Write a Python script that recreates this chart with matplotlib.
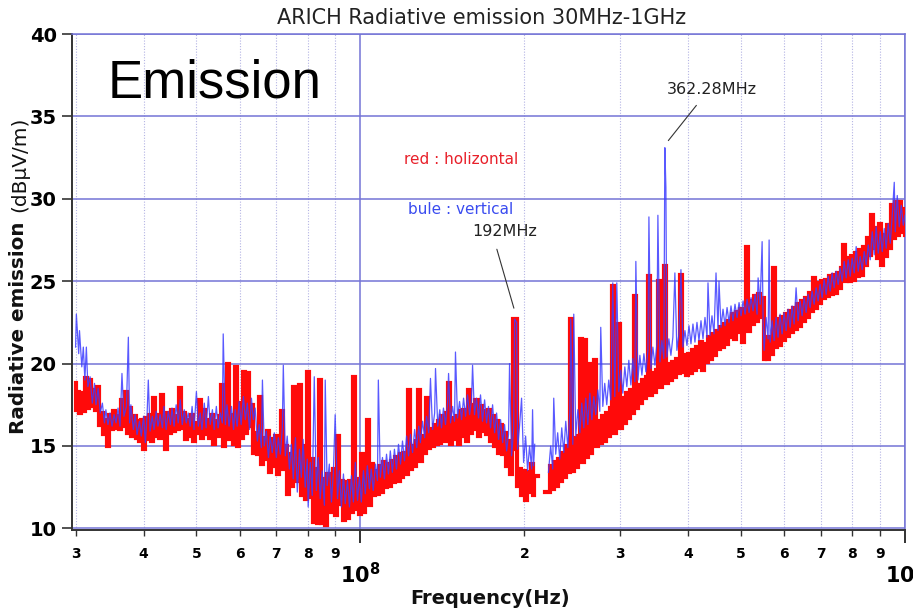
import numpy as np
import matplotlib
matplotlib.use('Agg')
import matplotlib.pyplot as plt
from matplotlib.ticker import FixedLocator, FixedFormatter, NullLocator

plt.rcParams['mathtext.fontset'] = 'dejavusans'

# ---------------- data (frequency in MHz, level in dBuV/m) ----------------
red_mhz = [
    30.0, 30.2, 30.4, 30.6, 30.9, 31.1, 31.4, 31.6, 31.9, 32.2,
    32.5, 32.7, 33.0, 33.3, 33.6, 33.9, 34.1, 34.4, 34.7, 35.0,
    35.3, 35.6, 35.9, 36.2, 36.5, 36.8, 37.2, 37.5, 37.8, 38.1,
    38.5, 38.8, 39.1, 39.4, 39.8, 40.1, 40.5, 40.8, 41.1, 41.5,
    41.8, 42.2, 42.5, 42.9, 43.3, 43.6, 44.0, 44.4, 44.8, 45.1,
    45.5, 45.9, 46.3, 46.7, 47.1, 47.5, 47.9, 48.3, 48.7, 49.1,
    49.5, 50.0, 50.4, 50.8, 51.2, 51.7, 52.1, 52.6, 53.0, 53.5,
    53.9, 54.4, 54.8, 55.3, 55.8, 56.2, 56.7, 57.2, 57.7, 58.2,
    58.7, 59.2, 59.7, 60.2, 60.7, 61.2, 61.7, 62.3, 62.8, 63.3,
    63.9, 64.4, 65.0, 65.5, 66.1, 66.6, 67.2, 67.8, 68.3, 68.9,
    69.5, 70.1, 70.7, 71.3, 71.9, 72.5, 73.1, 73.8, 74.4, 75.0,
    75.6, 76.3, 76.9, 77.6, 78.2, 78.9, 79.5, 80.2, 80.9, 81.6,
    82.3, 83.0, 83.7, 84.4, 85.1, 85.9, 86.6, 87.3, 88.1, 88.8,
    89.6, 90.4, 91.1, 91.9, 92.7, 93.5, 94.3, 95.0, 95.9, 96.7,
    97.5, 98.3, 99.2, 100.0, 100.8, 101.7, 102.6, 103.4, 104.3, 105.2,
    106.1, 107.0, 107.9, 108.8, 109.8, 110.7, 111.7, 112.6, 113.5, 114.5,
    115.5, 116.5, 117.5, 118.5, 119.5, 120.5, 121.6, 122.6, 123.6, 124.7,
    125.8, 126.9, 128.0, 128.9, 130.1, 131.2, 132.3, 133.5, 134.5, 135.7,
    136.9, 138.1, 139.3, 140.3, 141.5, 142.7, 144.0, 145.2, 146.4, 147.7,
    148.9, 150.2, 151.5, 152.7, 154.0, 155.3, 156.7, 158.0, 159.3, 160.7,
    162.0, 163.4, 164.8, 166.2, 167.6, 169.1, 170.5, 171.9, 173.4, 174.9,
    176.4, 177.9, 179.4, 180.9, 182.5, 184.0, 185.6, 187.1, 188.7, 190.3,
    191.2, 193.6, 194.4, 196.0, 197.7, 199.4, 201.1, 202.8, 204.5, 206.3,
    208.0, 209.0, 215.0, 221.5, 223.6, 225.5, 227.4, 229.4, 231.3, 233.3,
    235.3, 237.3, 239.3, 241.4, 243.4, 245.5, 247.6, 249.7, 251.8, 253.9,
    256.1, 258.3, 260.5, 262.7, 264.9, 267.2, 269.4, 271.7, 274.0, 276.3,
    278.7, 281.0, 283.4, 285.8, 288.3, 290.7, 293.2, 295.7, 298.2, 300.8,
    303.3, 305.9, 308.5, 311.1, 313.8, 316.5, 319.2, 321.9, 324.6, 327.4,
    330.2, 333.0, 335.8, 338.7, 341.5, 344.4, 347.4, 350.3, 353.3, 356.3,
    359.3, 362.3, 365.4, 368.5, 371.7, 374.8, 378.0, 381.2, 384.5, 387.8,
    391.1, 394.4, 397.8, 401.2, 404.6, 408.0, 411.5, 415.0, 418.5, 422.1,
    425.7, 429.3, 433.0, 436.7, 440.3, 444.1, 447.9, 451.7, 455.5, 459.4,
    463.3, 467.3, 471.3, 475.2, 479.2, 483.3, 487.4, 491.6, 495.8, 500.0,
    504.3, 508.6, 512.9, 517.3, 521.6, 526.1, 530.6, 535.1, 539.7, 544.1,
    548.9, 551.2, 555.8, 560.6, 565.4, 570.2, 575.1, 579.8, 584.7, 589.7,
    594.7, 599.8, 604.9, 610.1, 615.3, 620.5, 625.7, 631.0, 636.4, 641.8,
    647.3, 652.8, 658.3, 663.9, 669.6, 675.2, 681.0, 686.8, 692.6, 698.5,
    704.5, 710.5, 716.5, 722.6, 728.8, 735.0, 741.2, 747.5, 753.9, 760.3,
    766.8, 773.3, 779.8, 786.5, 793.1, 799.9, 806.7, 813.5, 820.5, 827.4,
    834.5, 841.6, 848.7, 856.0, 863.3, 870.6, 878.0, 885.4, 893.0, 900.6,
    908.3, 916.0, 923.7, 931.6, 939.5, 947.5, 955.6, 963.7, 971.9, 980.2,
    988.5, 996.9, 1000.0]
red_db = [
    18.8, 17.2, 18.3, 17.0, 18.2, 17.1, 19.1, 17.3, 19.0, 17.4,
    18.4, 17.2, 18.6, 16.3, 17.0, 15.7, 16.6, 15.0, 16.9, 16.0,
    17.1, 16.1, 16.8, 16.0, 17.8, 16.2, 18.3, 15.8, 17.3, 15.6,
    16.8, 15.5, 16.5, 15.3, 16.6, 14.8, 16.7, 15.4, 16.9, 15.3,
    17.9, 15.6, 16.9, 15.5, 18.1, 15.6, 14.8, 17.0, 15.8, 17.2,
    15.9, 16.8, 16.0, 18.5, 16.1, 17.0, 15.4, 16.6, 15.6, 16.9,
    15.3, 16.4, 15.8, 17.8, 15.5, 17.2, 15.7, 16.6, 15.5, 16.9,
    15.1, 16.5, 15.6, 16.8, 18.7, 15.0, 17.2, 20.0, 15.4, 16.9,
    15.1, 19.8, 15.0, 17.6, 15.5, 19.5, 15.8, 19.4, 16.2, 17.5,
    14.6, 15.8, 14.5, 18.0, 13.9, 15.5, 14.2, 15.9, 13.4, 15.4,
    13.8, 15.6, 13.3, 15.3, 17.1, 13.6, 15.0, 12.1, 14.5, 12.6,
    18.6, 12.9, 14.8, 18.7, 12.0, 15.0, 11.8, 19.5, 11.9, 14.2,
    10.4, 13.6, 10.3, 19.0, 10.3, 13.0, 10.2, 13.3, 11.0, 12.4,
    13.6, 10.8, 15.6, 11.5, 12.9, 10.5, 12.8, 10.6, 12.9, 11.0,
    19.2, 11.2, 13.0, 10.9, 14.5, 11.0, 13.8, 16.6, 11.4, 13.9,
    12.0, 13.5, 12.1, 13.8, 12.2, 14.0, 12.5, 13.9, 12.6, 14.1,
    12.8, 14.3, 12.9, 14.5, 13.1, 14.6, 13.3, 18.4, 13.6, 15.0,
    13.8, 15.3, 18.4, 14.1, 15.6, 14.6, 17.9, 14.9, 16.0, 15.0,
    16.3, 15.1, 16.5, 15.2, 16.8, 15.3, 17.0, 18.8, 15.1, 16.7,
    15.4, 16.8, 15.1, 17.1, 15.6, 17.2, 15.3, 18.4, 15.8, 17.5,
    16.0, 17.8, 15.6, 17.4, 15.9, 17.1, 15.7, 17.2, 15.3, 16.8,
    15.0, 16.5, 14.6, 16.3, 14.5, 15.8, 13.8, 15.3, 13.3, 14.8,
    22.7, 22.7, 12.6, 13.6, 12.0, 13.5, 11.7, 13.4, 12.2, 13.9,
    12.0, 13.2, np.nan, 12.2, 13.8, 12.4, 14.0, 12.6, 14.2, 12.9,
    14.6, 13.1, 15.0, 13.4, 22.7, 13.5, 15.5, 13.7, 15.6, 21.5,
    14.0, 21.4, 14.3, 20.0, 14.6, 16.2, 20.2, 15.0, 16.5, 15.2,
    16.8, 15.3, 17.0, 15.6, 17.3, 24.7, 15.8, 17.6, 22.4, 16.1,
    17.9, 16.4, 18.2, 16.7, 18.4, 17.0, 24.1, 17.3, 18.7, 17.6,
    19.0, 17.9, 19.2, 25.3, 18.1, 19.4, 18.3, 19.6, 25.0, 18.6,
    19.8, 25.9, 18.8, 20.0, 19.0, 20.1, 19.2, 20.3, 19.4, 25.4,
    19.5, 20.5, 19.3, 20.6, 19.4, 20.8, 19.6, 21.0, 19.8, 21.3,
    19.6, 21.2, 20.1, 21.6, 20.3, 21.8, 20.5, 22.0, 20.9, 22.2,
    21.0, 22.4, 21.2, 22.6, 21.6, 23.0, 21.5, 23.1, 21.9, 23.3,
    21.3, 22.9, 27.1, 22.0, 23.8, 22.4, 24.1, 22.6, 24.2, 22.8,
    24.0, 20.3, 21.6, 20.3, 21.6, 20.6, 25.8, 21.0, 22.7, 21.1,
    22.8, 21.4, 23.0, 21.7, 23.2, 21.9, 23.4, 22.1, 23.6, 22.3,
    23.8, 22.6, 24.0, 22.8, 24.3, 23.2, 25.2, 23.4, 24.9, 23.7,
    25.0, 24.0, 25.1, 24.1, 25.3, 24.2, 25.4, 24.3, 25.5, 24.6,
    25.8, 27.2, 25.0, 26.4, 25.0, 26.5, 25.1, 26.7, 25.3, 26.9,
    25.4, 27.1, 26.0, 27.6, 26.6, 29.0, 27.0, 28.2, 26.4, 28.5,
    26.0, 27.8, 26.5, 28.4, 27.0, 29.6, 27.6, 29.8, 27.8, 29.8,
    28.0, 29.4, 27.8]

blue_mhz = [
    30.0, 30.1, 30.4, 30.5, 30.8, 31.0, 31.2, 31.4, 31.6, 31.9,
    32.2, 32.5, 32.7, 33.0, 33.3, 33.6, 33.9, 34.1, 34.4, 34.7,
    35.0, 35.3, 35.6, 35.9, 36.2, 36.5, 36.8, 37.2, 37.5, 37.7,
    37.9, 38.3, 38.6, 38.9, 39.3, 39.6, 40.0, 40.3, 40.6, 40.8,
    41.1, 41.5, 41.8, 42.2, 42.5, 42.9, 43.3, 43.6, 44.0, 44.4,
    44.8, 45.1, 45.5, 45.9, 46.3, 46.7, 47.1, 47.5, 47.9, 48.3,
    48.7, 49.1, 49.5, 50.0, 50.4, 50.8, 51.2, 51.7, 52.1, 52.6,
    53.0, 53.5, 53.9, 54.4, 54.8, 55.3, 55.8, 56.0, 56.5, 56.9,
    57.4, 58.0, 58.5, 58.9, 59.4, 59.9, 60.4, 61.0, 61.5, 62.0,
    62.6, 63.1, 63.6, 64.1, 64.7, 65.2, 65.8, 66.1, 66.6, 67.2,
    67.8, 68.3, 68.9, 69.5, 70.1, 70.7, 71.3, 71.9, 72.2, 72.8,
    73.4, 74.1, 74.7, 75.3, 76.0, 76.6, 77.3, 77.9, 78.5, 79.2,
    79.9, 80.2, 80.9, 81.6, 82.3, 83.0, 83.7, 84.4, 85.1, 85.9,
    86.2, 86.9, 87.7, 88.5, 89.2, 89.9, 90.8, 91.5, 92.3, 93.1,
    93.8, 94.7, 95.5, 96.3, 97.1, 97.9, 98.8, 99.6, 100.4, 101.3,
    102.1, 103.0, 103.9, 104.7, 105.6, 106.6, 107.5, 107.9, 108.8, 109.8,
    110.7, 111.7, 112.6, 113.5, 114.5, 115.5, 116.5, 117.5, 118.5, 119.5,
    120.5, 121.6, 122.6, 123.6, 124.7, 125.8, 126.9, 128.0, 128.9, 130.1,
    131.2, 132.3, 133.5, 134.5, 135.7, 136.9, 137.4, 138.7, 139.9, 140.9,
    142.1, 143.3, 144.6, 145.2, 146.4, 147.7, 148.9, 149.5, 150.8, 152.1,
    153.4, 154.7, 156.0, 157.3, 158.7, 160.0, 160.7, 162.0, 163.4, 164.8,
    166.2, 167.6, 169.1, 170.5, 171.9, 173.4, 174.9, 176.4, 177.9, 179.4,
    180.9, 182.5, 184.0, 185.6, 187.1, 187.9, 189.5, 191.2, 192.0, 193.6,
    194.4, 196.0, 197.7, 199.4, 201.1, 202.8, 204.5, 206.3, 207.1, 208.0,
    209.0, 215.0, 221.5, 223.6, 225.5, 226.5, 228.4, 230.3, 232.3, 234.3,
    236.3, 238.3, 240.4, 242.4, 243.4, 245.5, 246.5, 248.6, 250.8, 252.9,
    255.0, 257.2, 259.3, 261.6, 263.8, 266.1, 268.3, 270.5, 272.9, 275.2,
    276.3, 278.7, 281.0, 283.4, 285.8, 288.3, 290.7, 293.2, 295.7, 298.2,
    300.8, 303.3, 305.9, 308.5, 311.1, 313.8, 316.5, 319.2, 320.5, 323.3,
    326.0, 328.8, 331.6, 334.4, 337.3, 338.7, 341.5, 344.4, 347.4, 350.3,
    351.8, 354.8, 357.8, 360.8, 362.3, 363.9, 365.4, 368.5, 371.7, 374.8,
    378.0, 381.2, 384.5, 387.8, 391.1, 394.4, 397.8, 401.2, 404.6, 408.0,
    411.5, 415.0, 418.5, 422.1, 425.7, 429.3, 433.0, 434.8, 438.5, 442.2,
    446.0, 449.8, 453.6, 455.5, 459.4, 463.3, 467.3, 471.3, 475.2, 479.2,
    483.3, 487.4, 491.6, 495.8, 500.0, 504.3, 508.6, 512.9, 517.3, 521.6,
    526.1, 530.6, 535.1, 537.4, 542.0, 546.6, 548.9, 551.2, 555.8, 560.6,
    563.0, 565.4, 570.2, 575.1, 579.8, 584.7, 589.7, 594.7, 599.8, 604.9,
    610.1, 615.3, 620.5, 625.7, 631.0, 636.4, 641.8, 647.3, 652.8, 658.3,
    663.9, 669.6, 675.2, 681.0, 686.8, 692.6, 698.5, 704.5, 710.5, 716.5,
    722.6, 728.8, 735.0, 741.2, 747.5, 753.9, 760.3, 766.8, 773.3, 779.8,
    786.5, 793.1, 799.9, 806.7, 813.5, 820.5, 827.4, 834.5, 841.6, 848.7,
    856.0, 863.3, 870.6, 878.0, 885.4, 893.0, 900.6, 908.3, 916.0, 923.7,
    931.6, 939.5, 947.5, 955.6, 959.6, 967.8, 976.0, 984.3, 992.7, 1000.0]
blue_db = [
    21.0, 23.0, 20.6, 22.0, 19.8, 21.0, 19.0, 21.0, 18.6, 19.2,
    17.6, 18.8, 17.5, 18.5, 17.0, 17.6, 16.4, 17.2, 16.3, 17.0,
    16.2, 16.9, 16.4, 17.3, 16.2, 19.4, 16.8, 17.4, 21.6, 16.4,
    17.5, 16.0, 16.9, 15.7, 16.5, 15.6, 16.8, 15.2, 17.0, 19.0,
    15.9, 16.8, 16.0, 17.1, 16.2, 16.9, 16.1, 17.4, 16.0, 17.1,
    16.3, 17.3, 16.2, 17.5, 16.4, 17.8, 16.3, 17.2, 16.4, 17.0,
    16.2, 17.4, 16.0, 18.3, 16.2, 17.0, 16.0, 17.6, 16.1, 18.0,
    16.3, 17.2, 16.0, 17.4, 16.1, 17.0, 16.4, 21.8, 16.3, 17.5,
    16.2, 17.4, 16.0, 17.2, 16.2, 17.7, 16.3, 18.0, 16.6, 17.6,
    16.0, 17.9, 16.6, 17.3, 15.3, 16.3, 14.9, 19.0, 15.0, 15.9,
    14.3, 15.6, 14.6, 15.8, 14.3, 15.5, 14.5, 16.1, 19.9, 14.4,
    15.6, 13.6, 15.1, 13.0, 15.5, 12.2, 14.8, 13.1, 15.4, 12.5,
    14.2, 11.3, 14.0, 12.0, 19.2, 12.3, 14.3, 11.8, 13.5, 11.4,
    19.0, 12.6, 13.9, 11.6, 13.3, 16.9, 11.8, 13.5, 11.3, 13.3,
    11.5, 12.9, 11.3, 13.2, 11.6, 14.0, 11.7, 13.1, 11.6, 13.5,
    12.1, 13.8, 12.4, 13.6, 12.3, 13.9, 12.9, 19.0, 13.1, 14.3,
    13.0, 14.5, 13.3, 14.7, 13.4, 14.8, 13.6, 15.1, 13.9, 15.3,
    14.1, 15.6, 14.4, 15.7, 14.6, 16.0, 14.9, 16.2, 15.2, 16.5,
    15.5, 16.8, 15.8, 19.1, 16.0, 17.0, 19.7, 16.2, 17.2, 16.1,
    17.3, 16.3, 17.6, 19.4, 16.4, 17.4, 16.5, 20.7, 16.7, 17.7,
    16.6, 17.9, 16.8, 18.1, 16.9, 17.8, 19.9, 16.9, 17.9, 16.7,
    18.1, 16.5, 17.8, 16.4, 17.4, 16.1, 17.5, 15.8, 17.0, 15.4,
    16.6, 15.2, 16.3, 14.7, 15.7, 20.0, 14.4, 16.0, 22.7, 22.5,
    14.8, 16.2, 17.9, 14.0, 15.6, 13.5, 15.0, 13.6, 17.2, 13.8,
    15.1, np.nan, 13.4, 15.0, 13.6, 17.9, 14.5, 15.8, 14.2, 16.1,
    14.6, 16.5, 14.9, 17.0, 22.7, 15.1, 23.0, 15.6, 17.2, 15.8,
    17.6, 16.1, 17.9, 16.3, 18.2, 16.6, 18.0, 16.9, 18.4, 17.1,
    22.2, 17.4, 18.8, 17.5, 19.0, 17.8, 24.9, 18.0, 24.9, 18.3,
    19.6, 18.2, 19.8, 18.6, 20.2, 18.7, 20.3, 18.9, 26.2, 19.0,
    20.5, 19.3, 20.6, 19.5, 20.8, 28.9, 19.7, 21.0, 19.9, 21.2,
    29.0, 20.1, 21.4, 20.3, 33.1, 30.7, 20.4, 21.5, 20.5, 21.6,
    25.5, 20.8, 21.8, 25.7, 21.0, 22.0, 21.1, 22.3, 21.2, 22.4,
    21.3, 22.5, 21.4, 22.6, 21.5, 22.8, 21.6, 24.9, 21.7, 22.9,
    21.8, 25.5, 22.0, 25.0, 22.2, 23.3, 22.3, 23.4, 22.5, 23.5,
    22.6, 23.6, 22.8, 23.7, 22.9, 23.8, 23.0, 23.9, 23.1, 24.0,
    23.2, 24.2, 23.0, 25.2, 23.6, 27.4, 22.5, 20.8, 22.8, 21.5,
    27.5, 21.3, 22.6, 21.4, 22.8, 21.6, 23.0, 21.8, 23.1, 22.0,
    23.3, 22.2, 23.5, 22.4, 24.6, 22.6, 23.8, 22.9, 24.0, 23.1,
    24.2, 23.4, 24.4, 23.6, 24.6, 23.8, 24.8, 24.0, 25.1, 24.2,
    25.3, 24.4, 25.5, 24.6, 25.6, 24.8, 25.8, 25.0, 26.2, 25.2,
    26.3, 25.3, 26.4, 25.5, 27.1, 25.6, 26.5, 25.7, 26.8, 26.0,
    27.2, 26.3, 28.0, 26.6, 28.3, 26.7, 28.0, 26.8, 28.2, 27.0,
    28.5, 27.3, 29.0, 31.0, 28.0, 30.2, 28.3, 29.6, 28.4, 29.0]

x_minor_ticks_hz = [3e7, 4e7, 5e7, 6e7, 7e7, 8e7, 9e7,
                    2e8, 3e8, 4e8, 5e8, 6e8, 7e8, 8e8, 9e8]
x_minor_labels = ['3', '4', '5', '6', '7', '8', '9',
                  '2', '3', '4', '5', '6', '7', '8', '9']
x_major_ticks_hz = [1e8, 1e9]
x_major_labels = [r'$\mathbf{10^{8}}$', r'$\mathbf{10^{9}}$']
y_ticks = [10, 15, 20, 25, 30, 35, 40]

peak_192_hz = 192e6
peak_362_hz = 362.28e6

# ---------------- figure ----------------
W, H = 913, 609
fig = plt.figure(figsize=(W / 100, H / 100), dpi=100)
ax = fig.add_axes([72 / W, 1 - 530 / H, 833 / W, 496 / H])
ax.set_xscale('log')
ax.set_xlim(2.955e7, 1e9)
ax.set_ylim(9.9, 40)

grid_blue = '#7474d6'
ax.set_yticks(y_ticks)
ax.yaxis.set_minor_locator(NullLocator())
ax.xaxis.set_major_locator(FixedLocator(x_major_ticks_hz))
ax.xaxis.set_major_formatter(FixedFormatter(x_major_labels))
ax.xaxis.set_minor_locator(FixedLocator(x_minor_ticks_hz))
ax.xaxis.set_minor_formatter(FixedFormatter(x_minor_labels))

ax.grid(axis='y', which='major', color=grid_blue, lw=1.1)
ax.grid(axis='x', which='major', color=grid_blue, lw=1.1)
ax.grid(axis='x', which='minor', color='#b4b4e4', lw=0.8, ls=(0, (1, 1.5)))
ax.set_axisbelow(True)

for s in ['top', 'right']:
    ax.spines[s].set_color(grid_blue)
    ax.spines[s].set_linewidth(1.1)
for s in ['left', 'bottom']:
    ax.spines[s].set_color('#333333')
    ax.spines[s].set_linewidth(1.4)

ax.tick_params(axis='y', which='major', length=7, width=1.2, color='#333333',
               pad=4, labelsize=14)
ax.tick_params(axis='x', which='minor', length=4, width=1.0, color='#333333',
               pad=8, labelsize=10)
ax.tick_params(axis='x', which='major', length=9, width=1.3, color='#222222',
               pad=14, labelsize=15)
for lab in ax.get_yticklabels() + ax.get_xticklabels(minor=True):
    lab.set_fontweight('bold')
    lab.set_family('DejaVu Sans')

ax.plot(np.array(red_mhz) * 1e6, red_db, color='#ff0a0a', lw=3.0,
        drawstyle='steps-mid', solid_joinstyle='miter', zorder=3)
ax.plot(np.array(blue_mhz) * 1e6, blue_db, color='#3c3cff', lw=0.9,
        alpha=0.85, zorder=4)

# annotations
ax.annotate('', xy=(peak_192_hz, 23.2), xytext=(177.5e6, 27.1),
            arrowprops=dict(arrowstyle='-', color='#333333', lw=0.8))
ax.annotate('', xy=(365e6, 33.4), xytext=(417e6, 35.8),
            arrowprops=dict(arrowstyle='-', color='#333333', lw=0.8))

fig.text(505 / W, 1 - 232 / H, '192MHz', ha='center', va='center',
         fontsize=11.5, family='DejaVu Sans', color='#222222')
fig.text(712 / W, 1 - 90 / H, '362.28MHz', ha='center', va='center',
         fontsize=11.5, family='DejaVu Sans', color='#222222')
fig.text(461 / W, 1 - 160 / H, 'red : holizontal', ha='center', va='center',
         fontsize=11, family='DejaVu Sans', color='#e8202a')
fig.text(461 / W, 1 - 210 / H, 'bule : vertical', ha='center', va='center',
         fontsize=11, family='DejaVu Sans', color='#3a4cf0')

fig.text(108 / W, 1 - 98 / H, 'Emission', ha='left', va='baseline',
         fontsize=38, family='Liberation Sans', color='black')

fig.text(482 / W, 1 - 18 / H, 'ARICH Radiative emission 30MHz-1GHz',
         ha='center', va='center', fontsize=15, family='DejaVu Sans',
         color='#222222')

fig.text(19 / W, 1 - 328 / H, 'Radiative emission', rotation=90,
         ha='center', va='center', fontsize=14.3, fontweight='bold',
         family='DejaVu Sans', color='#111111')
fig.text(20 / W, 1 - 164 / H, '(dBμV/m)', rotation=90,
         ha='center', va='center', fontsize=14.5, family='DejaVu Sans',
         color='#111111')
fig.text(490 / W, 1 - 598 / H, 'Frequency(Hz)', ha='center', va='center',
         fontsize=14, fontweight='bold', family='DejaVu Sans', color='#111111')

fig.savefig('out.png', dpi=100)
